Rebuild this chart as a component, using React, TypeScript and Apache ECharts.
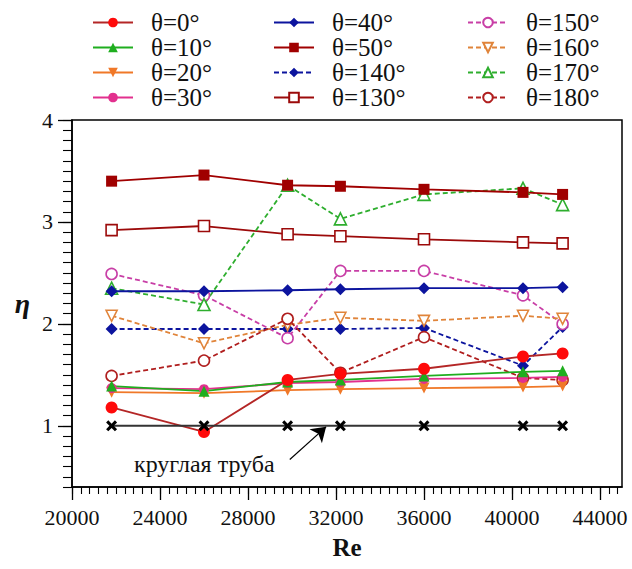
import React, { useEffect, useRef } from "react";
import * as echarts from "echarts";

// ---- data ----
const re = [21800, 26000, 29800, 32200, 36000, 40500, 42300];
const eta0 = [1.18, 0.94, 1.45, 1.51, 1.56, 1.68, 1.71];
const eta10 = [1.39, 1.34, 1.43, 1.45, 1.49, 1.53, 1.54];
const eta20 = [1.33, 1.32, 1.35, 1.36, 1.37, 1.38, 1.39];
const eta30 = [1.37, 1.36, 1.42, 1.43, 1.46, 1.47, 1.48];
const eta40 = [2.32, 2.32, 2.33, 2.34, 2.35, 2.35, 2.36];
const eta50 = [3.4, 3.46, 3.36, 3.35, 3.32, 3.29, 3.27];
const eta140 = [1.95, 1.95, 1.95, 1.95, 1.96, 1.59, 1.97];
const eta130 = [2.92, 2.96, 2.88, 2.86, 2.83, 2.8, 2.79];
const eta150 = [2.49, 2.28, 1.86, 2.52, 2.52, 2.28, 2.0];
const eta160 = [2.08, 1.81, 1.99, 2.06, 2.03, 2.08, 2.05];
const eta170 = [2.35, 2.19, 3.36, 3.03, 3.27, 3.33, 3.17];
const eta180 = [1.49, 1.64, 2.05, 1.52, 1.87, 1.47, 1.45];
const etaPipe = [1, 1, 1, 1, 1, 1, 1];

const xTickLabels = [20000, 24000, 28000, 32000, 36000, 40000, 44000];
const yTickLabels = [1, 2, 3, 4];
const legendCol1 = ["θ=0°", "θ=10°", "θ=20°", "θ=30°"];
const legendCol2 = ["θ=40°", "θ=50°", "θ=140°", "θ=130°"];
const legendCol3 = ["θ=150°", "θ=160°", "θ=170°", "θ=180°"];
const pipeLabel = "круглая труба";
// arrow (data coordinates): from tail to head
const arrowTail = [29900, 0.67];
const arrowHead = [31550, 0.99];

const FONT = "Liberation Serif";

const INV_TRI = "path://M0,0 L10,0 L5,9 Z";
const CROSS =
  "path://M2,0 L5,3 L8,0 L10,2 L7,5 L10,8 L8,10 L5,7 L2,10 L0,8 L3,5 L0,2 Z";

function pts(ys: number[]) {
  return re.map((x, i) => [x, ys[i]]);
}

type Spec = {
  name: string;
  ys: number[];
  symbol: string;
  color: string;
  line?: string;
  dashed?: boolean;
  hollow?: boolean;
  size?: number;
};

const specs: Spec[] = [
  { name: "θ=130°", ys: eta130, symbol: "rect", color: "#9c0a0a", hollow: true, size: 11 },
  { name: "θ=140°", ys: eta140, symbol: "diamond", color: "#0c149e", dashed: true, size: 12 },
  { name: "θ=150°", ys: eta150, symbol: "circle", color: "#c83ea6", dashed: true, hollow: true, size: 11 },
  { name: "θ=160°", ys: eta160, symbol: INV_TRI, color: "#e0843a", dashed: true, hollow: true, size: 11 },
  { name: "θ=180°", ys: eta180, symbol: "circle", color: "#b01e1e", dashed: true, hollow: true, size: 11 },
  { name: "θ=170°", ys: eta170, symbol: "triangle", color: "#2eae2e", dashed: true, hollow: true, size: 12 },
  { name: "θ=20°", ys: eta20, symbol: INV_TRI, color: "#f07828", size: 11 },
  { name: "θ=30°", ys: eta30, symbol: "circle", color: "#e2308e", size: 10 },
  { name: "θ=10°", ys: eta10, symbol: "triangle", color: "#1fae1f", size: 11 },
  { name: "θ=0°", ys: eta0, symbol: "circle", color: "#ff0a0a", line: "#b42626", size: 12 },
  { name: "θ=40°", ys: eta40, symbol: "diamond", color: "#0c149e", size: 12 },
  { name: "θ=50°", ys: eta50, symbol: "rect", color: "#a00000", size: 11 },
];

export default function App() {
  const ref = useRef<HTMLDivElement>(null);

  useEffect(() => {
    document.body.style.margin = "0";
    if (!ref.current) return;
    const chart = echarts.init(ref.current, null, { renderer: "svg" });

    const yMinor: number[] = [];
    for (let k = 4; k <= 40; k++) yMinor.push(k / 10);
    const xMinor: number[] = [];
    for (let v = 20000; v <= 45000; v += 400) xMinor.push(v);

    const series: any[] = specs.map((s) => ({
      type: "line",
      name: s.name,
      data: pts(s.ys),
      symbol: s.symbol,
      symbolSize: s.size ?? 11,
      xAxisIndex: 0,
      yAxisIndex: 0,
      lineStyle: {
        color: s.line ?? s.color,
        width: 1.8,
        type: s.dashed ? [5, 3] : "solid",
      },
      itemStyle: s.hollow
        ? { color: "#ffffff", borderColor: s.color, borderWidth: 1.6 }
        : { color: s.color, borderWidth: 0 },
      emphasis: { disabled: true },
    }));

    series.push({
      type: "line",
      name: "pipe",
      data: pts(etaPipe),
      symbol: CROSS,
      symbolSize: 11,
      lineStyle: { color: "#333333", width: 2 },
      itemStyle: { color: "#000000" },
      emphasis: { disabled: true },
      markLine: {
        silent: true,
        symbol: ["none", "arrow"],
        symbolSize: 14,
        lineStyle: { color: "#000000", width: 1.2, type: "solid" },
        label: { show: false },
        emphasis: { disabled: true },
        data: [[{ coord: arrowTail }, { coord: arrowHead }]],
      },
    });

    const legendBase = {
      orient: "vertical",
      top: 5,
      itemGap: 0,
      itemWidth: 40,
      itemHeight: 12,
      selectedMode: false,
      textStyle: {
        fontFamily: FONT,
        fontSize: 25,
        lineHeight: 25,
        color: "#111",
        padding: [0, 0, 0, 13],
      },
    };

    const hiddenLine = { show: true, lineStyle: { color: "rgba(0,0,0,0)", width: 1 } };

    chart.setOption({
      animation: false,
      backgroundColor: "#ffffff",
      textStyle: { fontFamily: FONT },
      legend: [
        { ...legendBase, left: 87, data: legendCol1 },
        { ...legendBase, left: 268, data: legendCol2 },
        { ...legendBase, left: 462, data: legendCol3 },
      ],
      grid: {
        left: 72,
        right: 10,
        top: 120,
        bottom: 82,
        show: true,
        borderColor: "#000",
        borderWidth: 1.5,
        backgroundColor: "transparent",
      },
      xAxis: [
        {
          type: "value",
          min: 20000,
          max: 45000,
          name: "Re",
          nameLocation: "middle",
          nameGap: 48,
          nameTextStyle: {
            fontFamily: FONT,
            fontSize: 25,
            fontWeight: "bold",
            color: "#111",
          },
          axisLine: { show: true, onZero: false, lineStyle: { color: "#000", width: 1.5 } },
          axisTick: {
            show: true,
            length: 13,
            lineStyle: { color: "#000", width: 1.3 },
            customValues: xTickLabels,
          },
          axisLabel: {
            customValues: xTickLabels,
            margin: 19,
            fontFamily: FONT,
            fontSize: 22,
            color: "#111",
            formatter: (v: number) => String(v),
          },
          splitLine: { show: false },
        },
        {
          type: "value",
          min: 20000,
          max: 45000,
          position: "bottom",
          axisLine: { ...hiddenLine, onZero: false },
          axisTick: {
            show: true,
            length: 7,
            lineStyle: { color: "#000", width: 1.1 },
            customValues: xMinor,
          },
          axisLabel: { show: false },
          splitLine: { show: false },
        },
      ],
      yAxis: [
        {
          type: "value",
          min: 0.4,
          max: 4,
          name: "η",
          nameLocation: "middle",
          nameRotate: 0,
          nameGap: 42,
          nameTextStyle: {
            fontFamily: FONT,
            fontSize: 28,
            fontWeight: "bold",
            fontStyle: "italic",
            color: "#111",
          },
          axisLine: { show: true, onZero: false, lineStyle: { color: "#000", width: 1.5 } },
          axisTick: {
            show: true,
            length: 14,
            lineStyle: { color: "#000", width: 1.3 },
            customValues: yTickLabels,
          },
          axisLabel: {
            customValues: yTickLabels,
            margin: 19,
            fontFamily: FONT,
            fontSize: 22,
            color: "#111",
          },
          splitLine: { show: false },
        },
        {
          type: "value",
          min: 0.4,
          max: 4,
          position: "left",
          axisLine: { ...hiddenLine, onZero: false },
          axisTick: {
            show: true,
            length: 9,
            lineStyle: { color: "#000", width: 1.1 },
            customValues: yMinor,
          },
          axisLabel: { show: false },
          splitLine: { show: false },
        },
      ],
      graphic: [
        {
          type: "text",
          left: 134,
          top: 452,
          style: {
            text: pipeLabel,
            fontFamily: FONT,
            fontSize: 24,
            fill: "#111",
          },
        },
      ],
      series,
    });

    return () => chart.dispose();
  }, []);

  return <div ref={ref} style={{ width: 632, height: 569 }} />;
}
